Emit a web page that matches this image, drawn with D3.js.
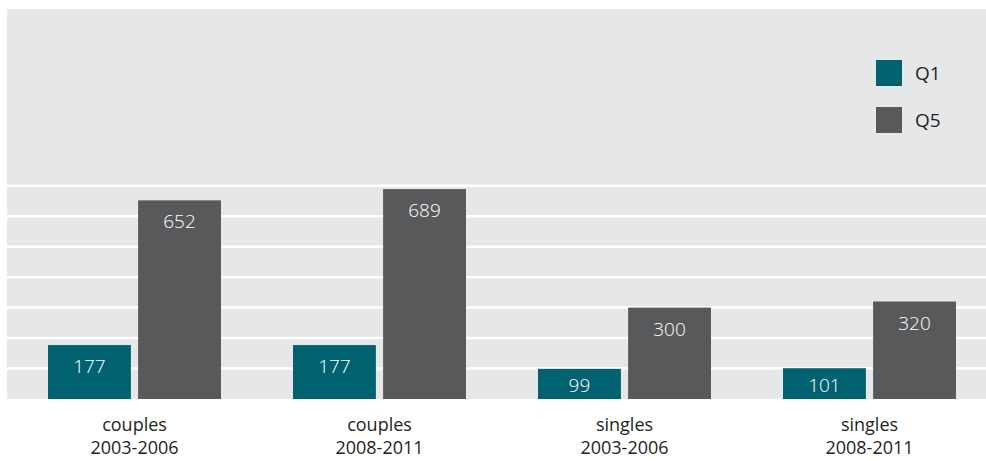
<!DOCTYPE html>
<html>
<head>
<meta charset="utf-8">
<script src="https://cdn.jsdelivr.net/npm/d3@7"></script>
<style>
  html, body { margin: 0; padding: 0; background: #ffffff; }
  svg { display: block; }
  text { font-family: "Open Sans", "Noto Sans", sans-serif; }
</style>
</head>
<body>
<svg id="chart" width="986" height="461"></svg>
<script>
// Income quintiles by household type and period
const groups = ["couples 2003-2006", "couples 2008-2011", "singles 2003-2006", "singles 2008-2011"];
const groupTypes = ["couples", "couples", "singles", "singles"];
const groupPeriods = ["2003-2006", "2008-2011", "2003-2006", "2008-2011"];
const seriesNames = ["Q1", "Q5"];
const q1Values = [177, 177, 99, 101];
const q5Values = [652, 689, 300, 320];
const gridTicks = [100, 200, 300, 400, 500, 600, 700];

const colors = { Q1: "#00626f", Q5: "#58595b" };

const svg = d3.select("#chart");
const plot = { left: 7, right: 986, top: 9, bottom: 399 };

const rows = groups.map((g, i) => ({
  group: g, type: groupTypes[i], period: groupPeriods[i], Q1: q1Values[i], Q5: q5Values[i]
}));

const x0 = d3.scaleBand().domain(groups).range([12, 992]).paddingInner(0.294).paddingOuter(0.147);
const x1 = d3.scaleBand().domain(seriesNames).range([0, x0.bandwidth()]).paddingInner(0.08);
const y = d3.scaleLinear().domain([0, 1280]).range([plot.bottom, plot.top]);

// plot background
svg.append("rect")
  .attr("x", plot.left).attr("y", plot.top)
  .attr("width", plot.right - plot.left).attr("height", plot.bottom - plot.top)
  .attr("fill", "#e6e7e8");

// horizontal gridlines
svg.append("g").selectAll("line").data(gridTicks).join("line")
  .attr("x1", plot.left).attr("x2", plot.right)
  .attr("y1", d => y(d)).attr("y2", d => y(d))
  .attr("stroke", "#ffffff").attr("stroke-width", 2.5);

// bars
const g = svg.append("g").selectAll("g").data(rows).join("g")
  .attr("transform", d => `translate(${x0(d.group)},0)`);

const bars = g.selectAll("g").data(d => seriesNames.map(s => ({ s, v: d[s] }))).join("g");

bars.append("rect")
  .attr("x", d => x1(d.s))
  .attr("y", d => y(d.v))
  .attr("width", x1.bandwidth())
  .attr("height", d => y(0) - y(d.v))
  .attr("fill", d => colors[d.s]);

bars.append("text")
  .attr("x", d => x1(d.s) + x1.bandwidth() / 2)
  .attr("y", d => Math.min(y(d.v) + 28, y(0) - 7))
  .attr("text-anchor", "middle")
  .attr("fill", "#ffffff")
  .attr("font-weight", 300)
  .attr("font-size", 19)
  .text(d => d.v);

// category axis labels (two lines each)
const labels = svg.append("g").selectAll("g").data(rows).join("g")
  .attr("transform", d => `translate(${x0(d.group) + x0.bandwidth() / 2},0)`);
labels.append("text")
  .attr("y", 431)
  .attr("text-anchor", "middle")
  .attr("fill", "#231f20")
  .attr("font-size", 18)
  .text(d => d.type);
labels.append("text")
  .attr("y", 454)
  .attr("text-anchor", "middle")
  .attr("fill", "#231f20")
  .attr("font-size", 18)
  .text(d => d.period);

// legend
const legend = svg.append("g").attr("transform", "translate(876,60)");
const li = legend.selectAll("g").data(seriesNames).join("g")
  .attr("transform", (d, i) => `translate(0,${i * 47})`);
li.append("rect").attr("width", 26).attr("height", 26).attr("fill", d => colors[d]);
li.append("text").attr("x", 39).attr("y", 20).attr("fill", "#231f20")
  .attr("font-size", 19).text(d => d);
</script>
</body>
</html>
